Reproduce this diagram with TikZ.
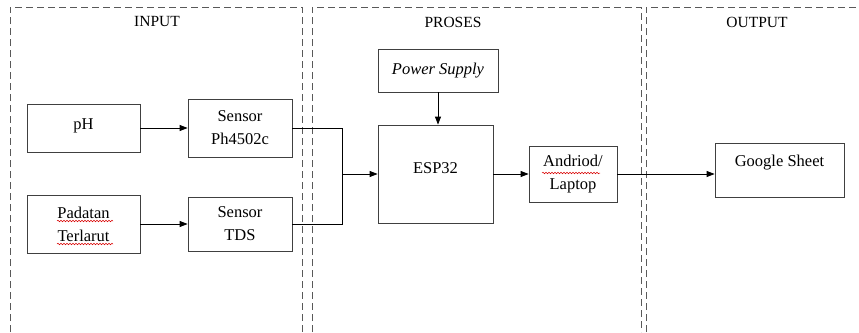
\documentclass[tikz,border=0pt]{standalone}
\usepackage{fontspec}
\setmainfont{Liberation Serif}
\newfontfamily\tnr{Liberation Serif}
\usetikzlibrary{arrows.meta,decorations.pathmorphing}
\begin{document}
\begin{tikzpicture}[x=1pt,y=-1pt,
 frame/.style={draw=black!65, dash pattern=on 7pt off 4pt, line width=0.8pt},
 box/.style={draw=black!75, line width=0.8pt, rectangle, inner sep=0pt, align=center, font=\tnr\fontsize{16.5}{23}\selectfont},
 txt/.style={inner sep=0pt, align=center, font=\tnr\fontsize{16.5}{23}\selectfont},
 head/.style={inner sep=0pt, font=\tnr\fontsize{15.5}{18}\selectfont},
 conn/.style={draw=black, line width=0.8pt},
 arr/.style={conn, -{Triangle[length=8pt,width=6pt]}},
 squig/.style={draw=red!85!black, line width=0.5pt, decorate, decoration={snake,segment length=3pt,amplitude=0.8pt}}]
\useasboundingbox (0,0) rectangle (859,332);
% frames
\draw[frame] (10,332) -- (10,7) -- (302,7) -- (302,332);
\draw[frame] (312,332) -- (312,7) -- (641,7) -- (641,332);
\draw[frame] (646,332) -- (646,7) -- (859,7);
\node[head] (hin) at (157,22) {INPUT};
\node[head] (hpr) at (453,22) {PROSES};
\node[head] (hout) at (757,22) {OUTPUT};
% boxes
\node[box, minimum width=113pt, minimum height=48pt] (ph) at (83.5,128) {};
\node[txt] (phtxt) at (83.5,126) {pH};
\node[box, minimum width=104pt, minimum height=58pt] (s1) at (240,128) {Sensor\\Ph4502c};
\node[box, minimum width=113pt, minimum height=58pt] (pt) at (83.5,224) {Padatan\\Terlarut};
\node[box, minimum width=104pt, minimum height=54pt] (s2) at (240,224) {Sensor\\TDS};
\node[box, minimum width=120pt, minimum height=43pt] (ps) at (438,70.5) {\itshape Power Supply};
\node[box, minimum width=115pt, minimum height=98pt] (esp) at (435.5,174) {};
\node[txt] (esptxt) at (435.5,168) {ESP32};
\node[box, minimum width=88pt, minimum height=56pt] (an) at (573,174) {Andriod/\\Laptop};
\node[box, minimum width=129pt, minimum height=54pt] (gs) at (779.5,170) {};
\node[txt] (gstxt) at (779.5,163) {Google Sheet};
% connectors
\coordinate (j) at (342,174);
\draw[arr] (ph.east) -- (ph.east -| s1.west);
\draw[arr] (pt.east) -- (pt.east -| s2.west);
\draw[conn] (s1.east) -| (j);
\draw[conn] (s2.east) -| (j);
\draw[arr] (j) -- (esp.west);
\draw[arr] (ps.south) -- (ps.south |- esp.north);
\draw[arr] (esp.east) -- (esp.east -| an.west);
\draw[arr] (an.east) -- (an.east -| gs.west);
% spell-check squiggles
\draw[squig] (57,221) -- (113,221);
\draw[squig] (57,244) -- (113,244);
\draw[squig] (542,173) -- (600,173);
\end{tikzpicture}
\end{document}
